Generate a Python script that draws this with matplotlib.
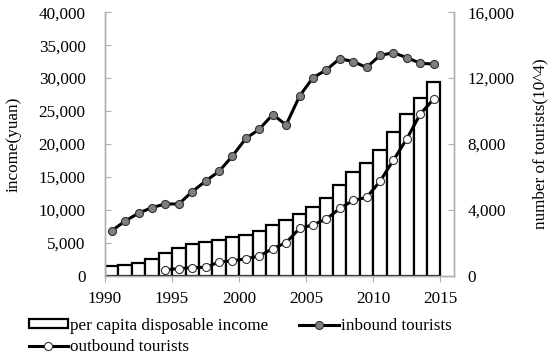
import numpy as np
import matplotlib
matplotlib.use('Agg')
import matplotlib.pyplot as plt
from matplotlib.ticker import FuncFormatter

# data
years = list(range(1990, 2015))
income = [1510, 1700, 2027, 2577, 3496, 4283, 4839, 5160, 5425, 5854,
          6280, 6860, 7703, 8472, 9422, 10493, 11759, 13786, 15781, 17175,
          19109, 21810, 24565, 26955, 29381]
inbound = [2746, 3335, 3812, 4153, 4368, 4370, 5113, 5759, 6348, 7280,
           8344, 8901, 9791, 9166, 10904, 12029, 12494, 13187, 13003, 12648,
           13376, 13542, 13241, 12908, 12850]
outbound_years = list(range(1994, 2015))
outbound = [373, 452, 506, 532, 843, 923, 1047, 1213, 1660, 2022,
            2885, 3103, 3452, 4095, 4584, 4766, 5739, 7025, 8318, 9819,
            10728]

def comma(v, pos):
	return '{:,.0f}'.format(v)

def plot_income_tourists():
	plt.rcParams['font.family'] = ['Liberation Serif', 'DejaVu Serif']
	fs = 12.3
	spinecol = '#b0b0b0'

	fig = plt.figure(figsize=(5.5, 3.58), dpi=100)
	ax = fig.add_axes([0.191, 0.229, 0.634, 0.737])
	ax2 = ax.twinx()

	# bars on the left axis, one year wide, starting at the year
	bars = ax.bar(years, income, width=1.0, align='edge', color='white',
	              edgecolor='black', linewidth=1.6, label='per capita disposable income')

	# tourists on the right axis, at the middle of each bar
	xin = np.array(years) + 0.5
	xout = np.array(outbound_years) + 0.5
	l1, = ax2.plot(xin, inbound, color='black', linewidth=2.2, marker='o', markersize=5.8,
	               markerfacecolor='#7f7f7f', markeredgecolor='#333333', markeredgewidth=0.8,
	               label='inbound tourists')
	l2, = ax2.plot(xout, outbound, color='black', linewidth=2.2, marker='o', markersize=5.8,
	               markerfacecolor='white', markeredgecolor='#333333', markeredgewidth=0.8,
	               label='outbound tourists')

	# axes limits and ticks
	ax.set_xlim(1990, 2016)
	ax.set_ylim(0, 40000)
	ax2.set_ylim(0, 16000)
	ax.set_xticks([1990, 1995, 2000, 2005, 2010, 2015])
	ax.set_yticks(np.arange(0, 40001, 5000))
	ax2.set_yticks(np.arange(0, 16001, 4000))
	ax.yaxis.set_major_formatter(FuncFormatter(comma))
	ax2.yaxis.set_major_formatter(FuncFormatter(comma))

	for a in (ax, ax2):
		a.spines['top'].set_visible(False)
		for s in ('left', 'right', 'bottom'):
			a.spines[s].set_color(spinecol)
			a.spines[s].set_linewidth(1.0)
	ax.tick_params(axis='y', direction='in', length=4, color=spinecol, labelsize=fs, pad=14)
	ax2.tick_params(axis='y', direction='in', length=4, color=spinecol, labelsize=fs, pad=10)
	ax.tick_params(axis='x', direction='out', length=4, color=spinecol, labelsize=fs, pad=7)

	ax.set_ylabel('income(yuan)', fontsize=fs, labelpad=12)
	ax2.set_ylabel('number of tourists(10^4)', fontsize=fs, labelpad=13)

	# legend below the plot, two columns
	fig.legend([bars, l2, l1], ['per capita disposable income', 'outbound tourists', 'inbound tourists'],
	           loc='upper left', bbox_to_anchor=(0.052, 0.112), ncol=2, frameon=False,
	           fontsize=fs, handlelength=2.3, handleheight=0.45, handletextpad=0.15,
	           columnspacing=1.8, labelspacing=0.3, borderpad=0, borderaxespad=0)

	plt.savefig('out.png', dpi=100)

if __name__ == "__main__":
	plot_income_tourists()
